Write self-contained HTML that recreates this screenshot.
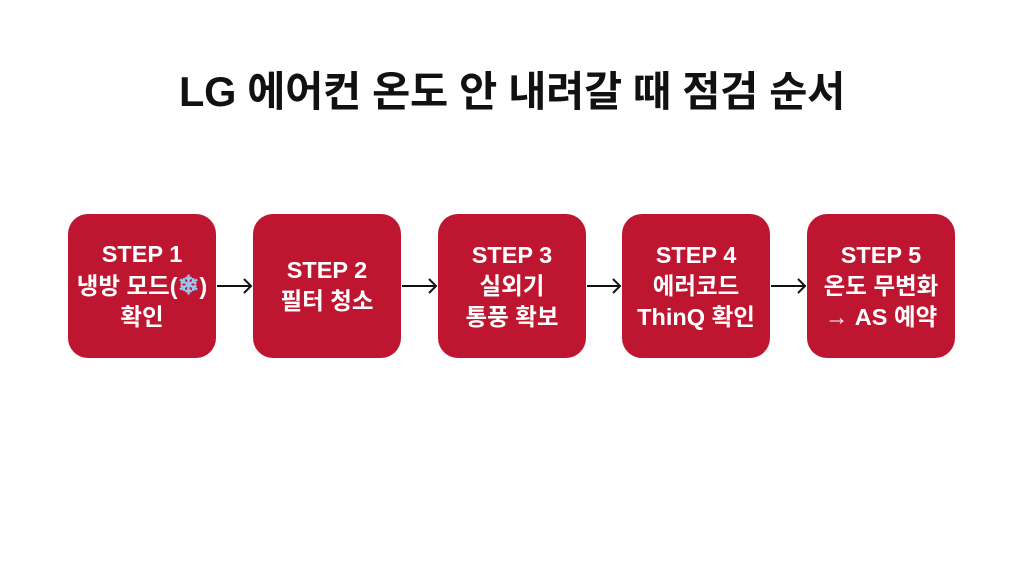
<!DOCTYPE html>
<html><head><meta charset="utf-8"><style>
body{margin:0;width:1024px;height:572px;background:#fff;position:relative;overflow:hidden;font-family:"Liberation Sans","Noto Sans CJK KR",sans-serif;}
h1{position:absolute;top:58px;left:0;width:1024px;text-align:center;margin:0;font-size:41.5px;font-weight:bold;color:#111;letter-spacing:-0.3px;}
.b{position:absolute;top:214px;width:148px;height:144px;background:#BE1530;border-radius:20px;color:#fff;display:flex;align-items:center;justify-content:center;text-align:center;font-weight:bold;font-size:23.5px;line-height:31px;white-space:nowrap;}
</style></head><body>
<h1>LG 에어컨 온도 안 내려갈 때 점검 순서</h1>
<div class="b" style="left:68px"><div>STEP 1<br>냉방 모드(<span style="color:#9cc4ee;font-size:26px">❄</span>)<br>확인</div></div>
<div class="b" style="left:253px"><div>STEP 2<br>필터 청소</div></div>
<div class="b" style="left:438px"><div>STEP 3<br>실외기<br>통풍 확보</div></div>
<div class="b" style="left:622px"><div>STEP 4<br>에러코드<br>ThinQ 확인</div></div>
<div class="b" style="left:807px"><div>STEP 5<br>온도 무변화<br>→ AS 예약</div></div>
<svg width="1024" height="572" style="position:absolute;left:0;top:0">
<g stroke="#111" stroke-width="2" fill="none">
<path d="M217 286H251M244 279L251 286L244 293"/>
<path d="M402 286H436M429 279L436 286L429 293"/>
<path d="M587 286H620M613 279L620 286L613 293"/>
<path d="M771 286H805M798 279L805 286L798 293"/>
</g></svg>
</body></html>
